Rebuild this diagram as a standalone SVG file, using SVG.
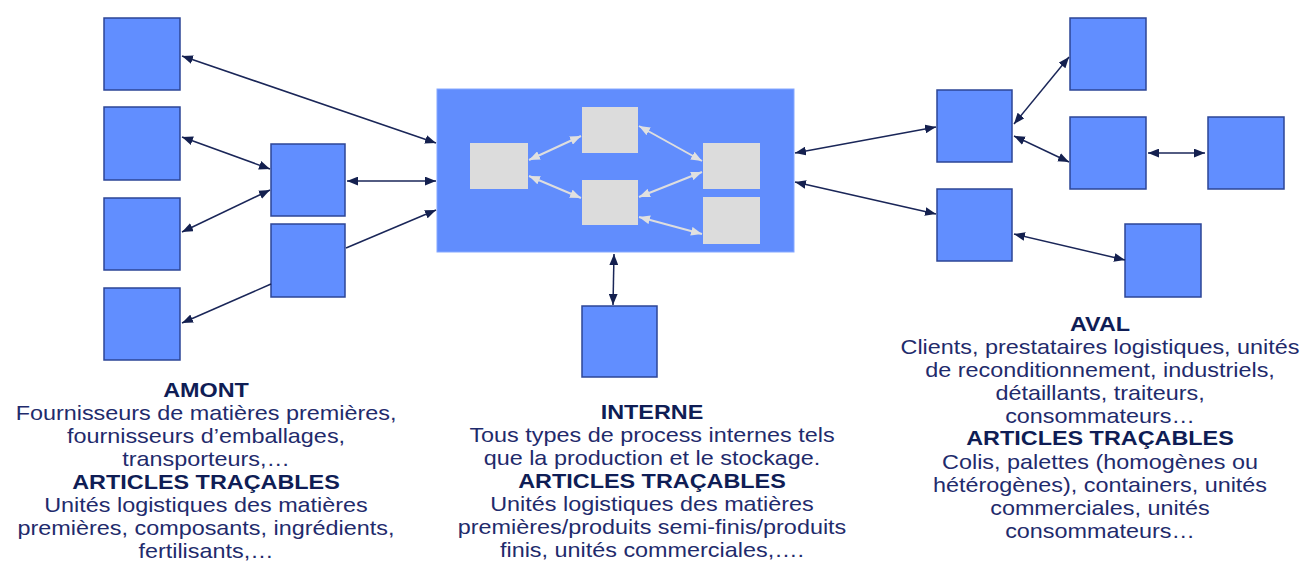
<svg xmlns="http://www.w3.org/2000/svg" width="1301" height="562" viewBox="0 0 1301 562">
<style>
.box{fill:#618eff;stroke:#2d4596;stroke-width:1.5}
.big{fill:#618dfd;stroke:#86a8ff;stroke-width:1}
.gray{fill:#dcdcdc}
.c{stroke:#1a2658;stroke-width:1.5;fill:none}
.g{stroke:#dedede;stroke-width:2;fill:none}
.t{font-family:"Liberation Sans",Arial,sans-serif;font-size:20px;fill:#1f2b6c;text-anchor:middle}
.b{font-weight:bold;fill:#0f1d55}
</style>
<defs>
<marker id="a" viewBox="0 0 10 8" refX="10" refY="4" markerWidth="11" markerHeight="9" markerUnits="userSpaceOnUse" orient="auto-start-reverse"><path d="M0,0 L10,4 L0,8 z" fill="#14204f"/></marker>
<marker id="ag" viewBox="0 0 10 8" refX="10" refY="4" markerWidth="11" markerHeight="9" markerUnits="userSpaceOnUse" orient="auto-start-reverse"><path d="M0,0 L10,4 L0,8 z" fill="#e0e0e0"/></marker>
</defs>
<rect width="1301" height="562" fill="#ffffff"/>
<g id="interne-main"><rect class="big" x="437" y="89" width="357" height="163"/></g>
<g id="g1"><rect class="gray" x="470" y="143" width="58" height="46"/></g>
<g id="g2"><rect class="gray" x="582" y="107" width="56" height="46"/></g>
<g id="g3"><rect class="gray" x="582" y="180" width="56" height="45"/></g>
<g id="g4"><rect class="gray" x="703" y="143" width="57" height="46"/></g>
<g id="g5"><rect class="gray" x="703" y="197" width="57" height="47"/></g>
<g id="l1"><rect class="box" x="104" y="18" width="76" height="72"/></g>
<g id="l2"><rect class="box" x="104" y="107" width="76" height="73"/></g>
<g id="l3"><rect class="box" x="104" y="198" width="76" height="72"/></g>
<g id="l4"><rect class="box" x="104" y="288" width="76" height="72"/></g>
<g id="m1"><rect class="box" x="271" y="144" width="74" height="72"/></g>
<g id="m2"><rect class="box" x="271" y="224" width="74" height="73"/></g>
<g id="bottom"><rect class="box" x="582" y="306" width="75" height="71"/></g>
<g id="r1"><rect class="box" x="937" y="90" width="75" height="72"/></g>
<g id="r2"><rect class="box" x="937" y="189" width="75" height="72"/></g>
<g id="r3"><rect class="box" x="1070" y="18" width="76" height="72"/></g>
<g id="r4"><rect class="box" x="1070" y="117" width="76" height="72"/></g>
<g id="r5"><rect class="box" x="1208" y="117" width="76" height="72"/></g>
<g id="r6"><rect class="box" x="1125" y="224" width="76" height="73"/></g>
<g id="connectors">
<line class="c" x1="182" y1="56" x2="436" y2="143" marker-start="url(#a)" marker-end="url(#a)"/>
<line class="c" x1="182" y1="137" x2="270" y2="169" marker-start="url(#a)" marker-end="url(#a)"/>
<line class="c" x1="182" y1="232" x2="270" y2="190" marker-start="url(#a)" marker-end="url(#a)"/>
<line class="c" x1="347" y1="181" x2="436" y2="181" marker-start="url(#a)" marker-end="url(#a)"/>
<line class="c" x1="346" y1="248" x2="436" y2="210" marker-end="url(#a)"/>
<line class="c" x1="271" y1="284" x2="182" y2="323" marker-end="url(#a)"/>
<line class="c" x1="614" y1="254" x2="613" y2="305" marker-start="url(#a)" marker-end="url(#a)"/>
<line class="c" x1="795" y1="153" x2="936" y2="127" marker-start="url(#a)" marker-end="url(#a)"/>
<line class="c" x1="795" y1="182" x2="936" y2="214" marker-start="url(#a)" marker-end="url(#a)"/>
<line class="c" x1="1014" y1="124" x2="1069" y2="57" marker-start="url(#a)" marker-end="url(#a)"/>
<line class="c" x1="1014" y1="136" x2="1069" y2="162" marker-start="url(#a)" marker-end="url(#a)"/>
<line class="c" x1="1148" y1="153" x2="1205" y2="153" marker-start="url(#a)" marker-end="url(#a)"/>
<line class="c" x1="1014" y1="234" x2="1125" y2="260" marker-start="url(#a)" marker-end="url(#a)"/>
<line class="g" x1="529" y1="160" x2="581" y2="136" marker-start="url(#ag)" marker-end="url(#ag)"/>
<line class="g" x1="529" y1="176" x2="581" y2="198" marker-start="url(#ag)" marker-end="url(#ag)"/>
<line class="g" x1="639" y1="126" x2="702" y2="161" marker-start="url(#ag)" marker-end="url(#ag)"/>
<line class="g" x1="639" y1="197" x2="702" y2="172" marker-start="url(#ag)" marker-end="url(#ag)"/>
<line class="g" x1="639" y1="217" x2="702" y2="234" marker-start="url(#ag)" marker-end="url(#ag)"/>
</g>
<g id="amont-text" transform="translate(206,0) scale(1.17,1)">
<text class="t b" x="0" y="397">AMONT</text>
<text class="t" x="0" y="420">Fournisseurs de matières premières,</text>
<text class="t" x="0" y="443">fournisseurs d’emballages,</text>
<text class="t" x="0" y="466">transporteurs,…</text>
<text class="t b" x="0" y="489">ARTICLES TRAÇABLES</text>
<text class="t" x="0" y="512">Unités logistiques des matières</text>
<text class="t" x="0" y="535">premières, composants, ingrédients,</text>
<text class="t" x="0" y="558">fertilisants,…</text>
</g>
<g id="interne-text" transform="translate(652,0) scale(1.17,1)">
<text class="t b" x="0" y="419">INTERNE</text>
<text class="t" x="0" y="442">Tous types de process internes tels</text>
<text class="t" x="0" y="465">que la production et le stockage.</text>
<text class="t b" x="0" y="488">ARTICLES TRAÇABLES</text>
<text class="t" x="0" y="511">Unités logistiques des matières</text>
<text class="t" x="0" y="534">premières/produits semi-finis/produits</text>
<text class="t" x="0" y="557">finis, unités commerciales,….</text>
</g>
<g id="aval-text" transform="translate(1100,0) scale(1.17,1)">
<text class="t b" x="0" y="331">AVAL</text>
<text class="t" x="0" y="354">Clients, prestataires logistiques, unités</text>
<text class="t" x="0" y="377">de reconditionnement, industriels,</text>
<text class="t" x="0" y="400">détaillants, traiteurs,</text>
<text class="t" x="0" y="423">consommateurs…</text>
<text class="t b" x="0" y="445">ARTICLES TRAÇABLES</text>
<text class="t" x="0" y="469">Colis, palettes (homogènes ou</text>
<text class="t" x="0" y="492">hétérogènes), containers, unités</text>
<text class="t" x="0" y="515">commerciales, unités</text>
<text class="t" x="0" y="538">consommateurs…</text>
</g>
</svg>
